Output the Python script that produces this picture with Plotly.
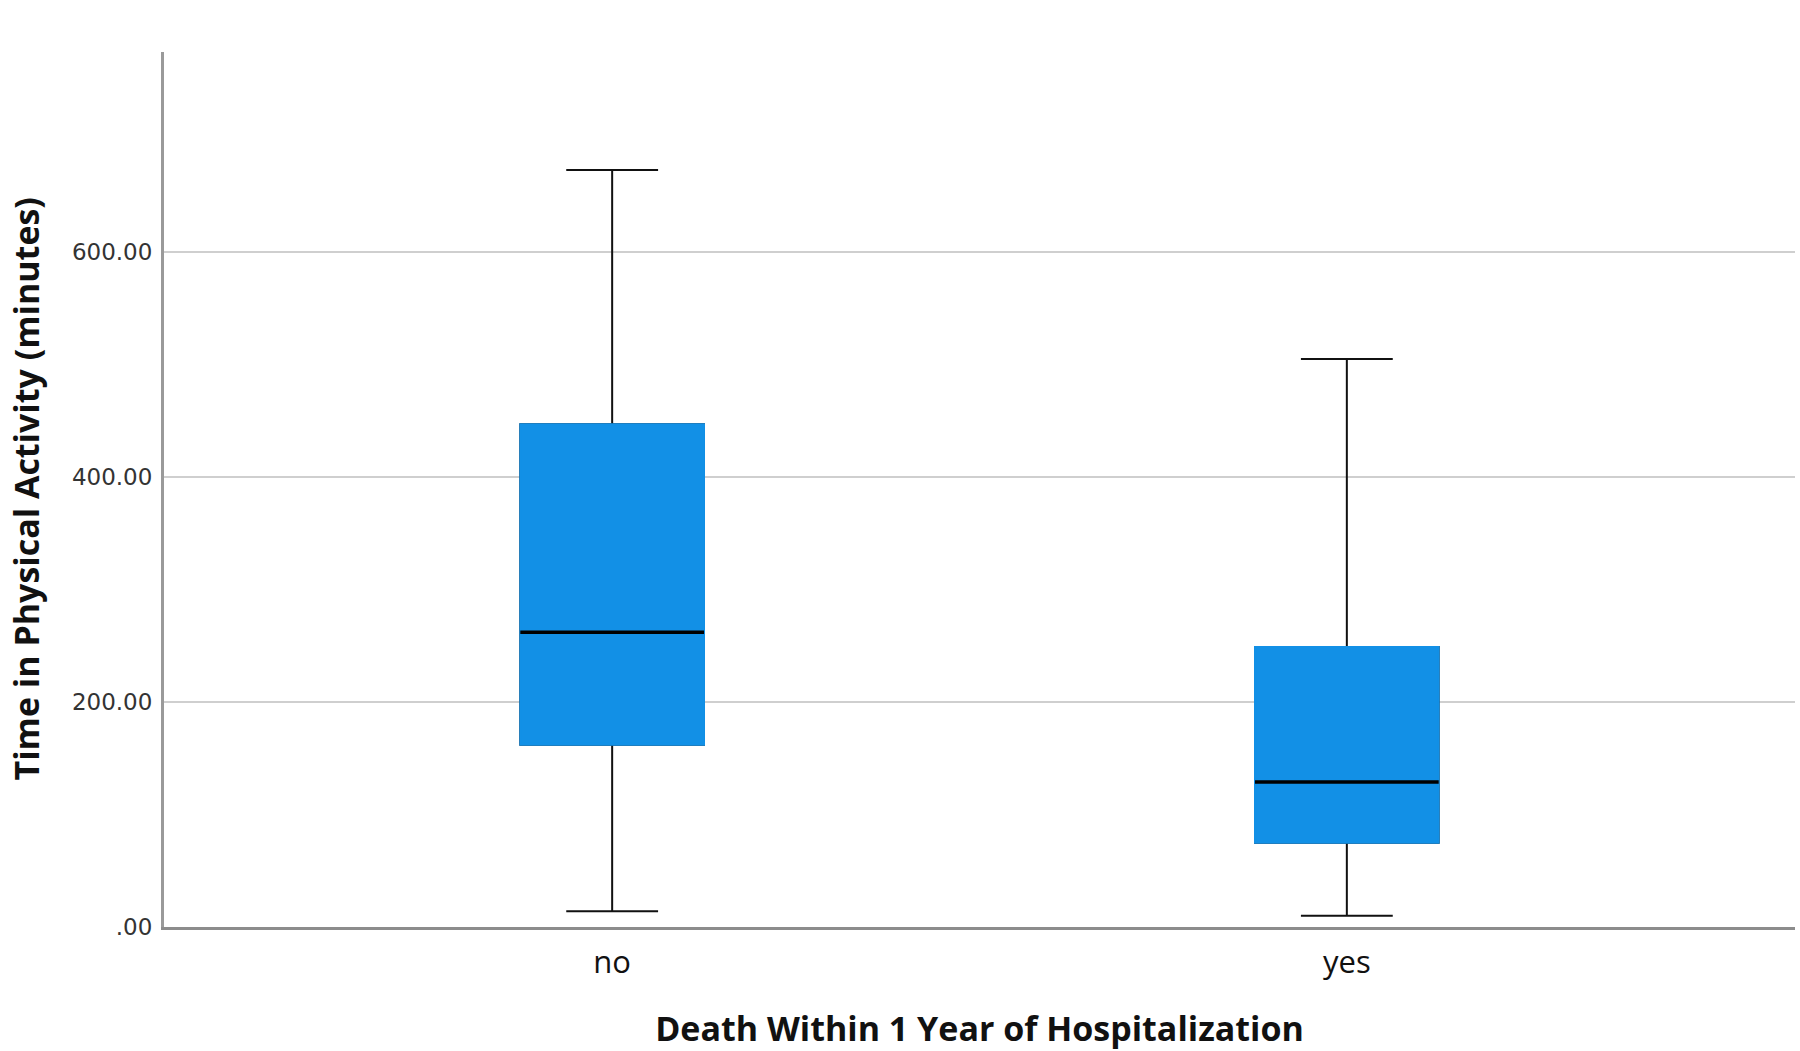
import plotly.graph_objects as go

categories = ["no", "yes"]
lower_whisker = [14, 10]
q1 = [162, 75]
median = [262, 129]
q3 = [447, 249]
upper_whisker = [673, 505]

y_tickvals = [0, 200, 400, 600]
y_ticktext = [".00", "200.00", "400.00", "600.00"]

box_color = "#1290E6"
box_width = 0.25

fig = go.Figure()

# whiskers and caps (black)
fig.add_trace(go.Box(
    x=categories, q1=q1, median=median, q3=q3,
    lowerfence=lower_whisker, upperfence=upper_whisker,
    width=box_width, whiskerwidth=0.5,
    fillcolor=box_color, line=dict(color="#111111", width=2),
    boxpoints=False, hoverinfo="skip", showlegend=False,
))
# blue box body without black outline
fig.add_trace(go.Box(
    x=categories, q1=q1, median=q1, q3=q3,
    lowerfence=q1, upperfence=q3,
    width=box_width, whiskerwidth=0,
    fillcolor=box_color, line=dict(color=box_color, width=2),
    boxpoints=False, hoverinfo="skip", showlegend=False,
))
# median line
fig.add_trace(go.Box(
    x=categories, q1=median, median=median, q3=median,
    lowerfence=median, upperfence=median,
    width=box_width, whiskerwidth=0,
    fillcolor="#000000", line=dict(color="#000000", width=3.5),
    boxpoints=False, hoverinfo="skip", showlegend=False,
))

fig.update_layout(
    width=1800, height=1051,
    margin=dict(l=164, r=5, t=52, b=124),
    paper_bgcolor="white", plot_bgcolor="white",
    boxmode="overlay",
    showlegend=False,
    xaxis=dict(
        type="category", range=[-0.61, 1.61],
        showgrid=False, zeroline=False,
        showline=True, linecolor="#8c8c8c", linewidth=3,
        ticks="", ticklabelstandoff=6,
        tickfont=dict(family="Open Sans", size=31, color="#111111"),
        title=dict(text="<b>Death Within 1 Year of Hospitalization</b>",
                   font=dict(family="Open Sans", size=34, color="#111111"),
                   standoff=36),
    ),
    yaxis=dict(
        range=[0, 778],
        tickvals=y_tickvals, ticktext=y_ticktext,
        showgrid=True, gridcolor="#cfcfcf", gridwidth=2,
        zeroline=False,
        showline=True, linecolor="#9a9a9a", linewidth=3,
        ticks="", ticklabelstandoff=4,
        tickfont=dict(family="DejaVu Sans", size=23, color="#333333"),
    ),
    annotations=[dict(
        text="<b>Time in Physical Activity (minutes)</b>",
        xref="paper", yref="paper", x=-0.0852, y=0.5,
        xanchor="center", yanchor="middle", textangle=-90,
        showarrow=False,
        font=dict(family="Open Sans", size=34, color="#111111"),
    )],
)

fig.write_html("out.html")
